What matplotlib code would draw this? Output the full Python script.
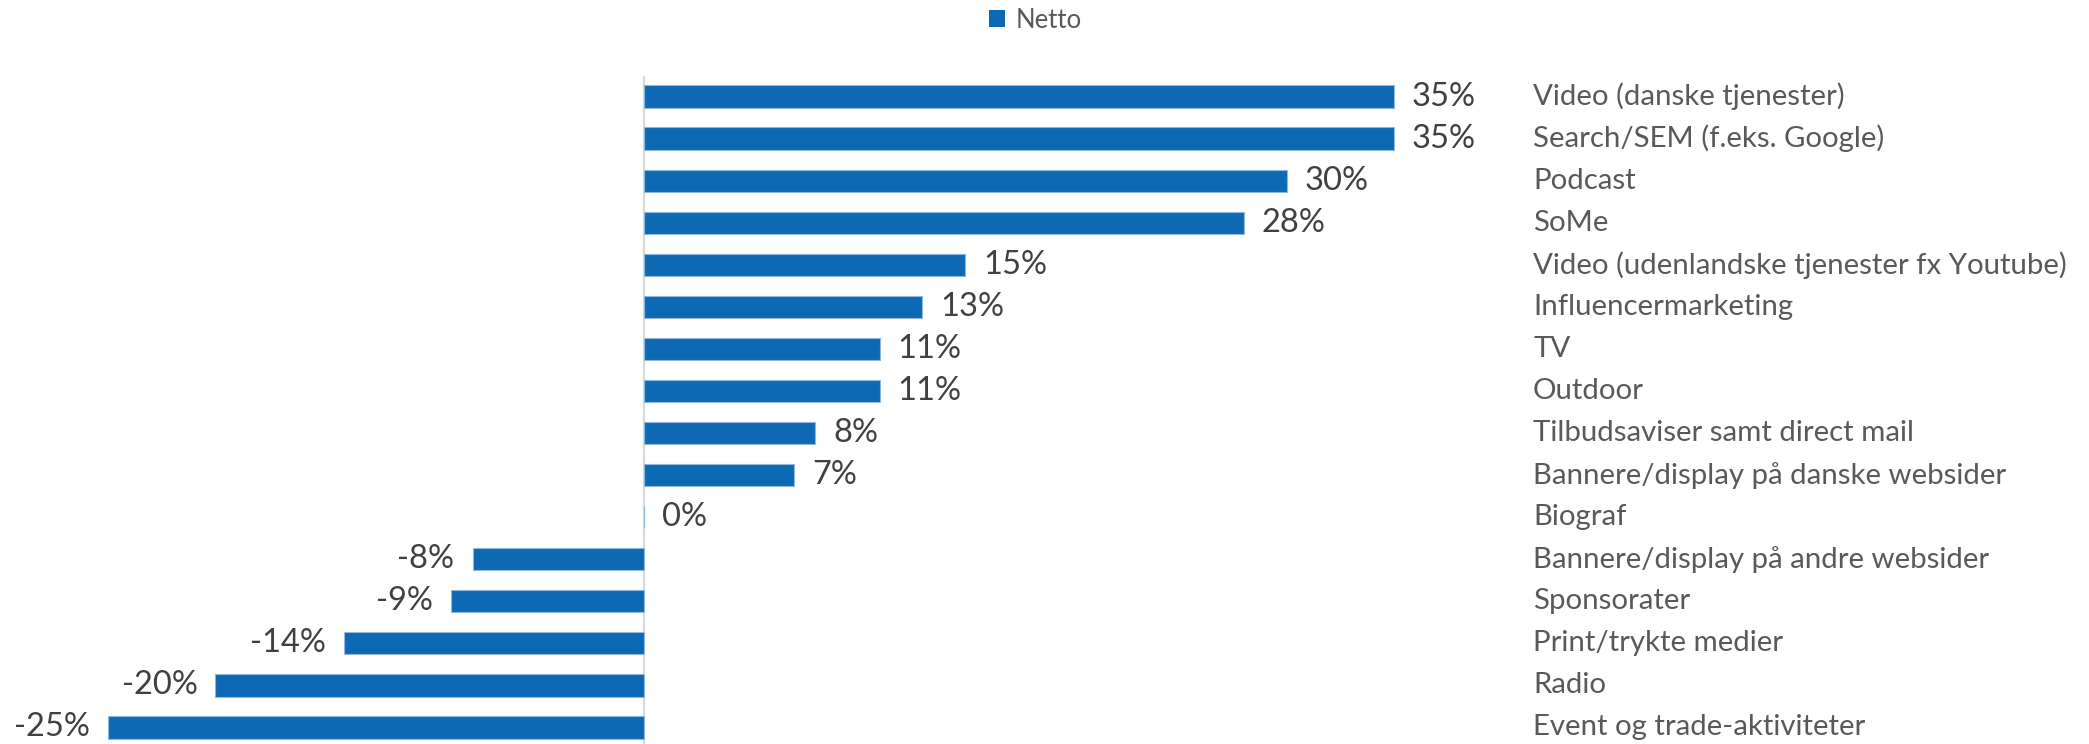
import matplotlib.pyplot as plt
import matplotlib.transforms as mtransforms
from matplotlib.patches import Patch

# Netto-tal pr. medie (procent)
kategorier = [
    "Video (danske tjenester)",
    "Search/SEM (f.eks. Google)",
    "Podcast",
    "SoMe",
    "Video (udenlandske tjenester fx Youtube)",
    "Influencermarketing",
    "TV",
    "Outdoor",
    "Tilbudsaviser samt direct mail",
    "Bannere/display på danske websider",
    "Biograf",
    "Bannere/display på andre websider",
    "Sponsorater",
    "Print/trykte medier",
    "Radio",
    "Event og trade-aktiviteter",
]
netto = [35, 35, 30, 28, 15, 13, 11, 11, 8, 7, 0, -8, -9, -14, -20, -25]
serie_navn = "Netto"

blaa = "#0D69B3"
kant = "#8FB8DE"

plt.rcParams["font.family"] = ["Lato", "DejaVu Sans"]

fig = plt.figure(figsize=(20.89, 7.44), dpi=100)
ax = fig.add_axes([0, -0.006, 1, 0.9045])

y = list(range(len(kategorier)))
ax.barh(y, netto, height=0.53, color=blaa, edgecolor=kant, linewidth=0.8)

ax.set_xlim(-30.06, 67.46)
ax.set_ylim(15.5, -0.5)
ax.axis("off")
ax.axvline(0, color="#D9D9D9", linewidth=1.6, zorder=0)

# værdietiketter ved enden af søjlerne
for yi, v in zip(y, netto):
    if v >= 0:
        off, ha = 13, "left"
    else:
        off, ha = -13, "right"
    ax.annotate(f"{v}%", (v, yi), xytext=(off, 0), textcoords="offset points",
                ha=ha, va="center", fontsize=23.5, color="#404040")

# kategorinavne i højre side
trans = mtransforms.blended_transform_factory(fig.transFigure, ax.transData)
for yi, navn in zip(y, kategorier):
    ax.text(0.7339, yi, navn, transform=trans, ha="left", va="center",
            fontsize=21.2, color="#595959")

fig.legend(handles=[Patch(facecolor=blaa, label=serie_navn)],
           loc="center", bbox_to_anchor=(0.4955, 0.973), frameon=False,
           fontsize=18.5, labelcolor="#595959", handlelength=0.65,
           handleheight=0.65, handletextpad=0.4)

fig.savefig("out.png", dpi=100)
